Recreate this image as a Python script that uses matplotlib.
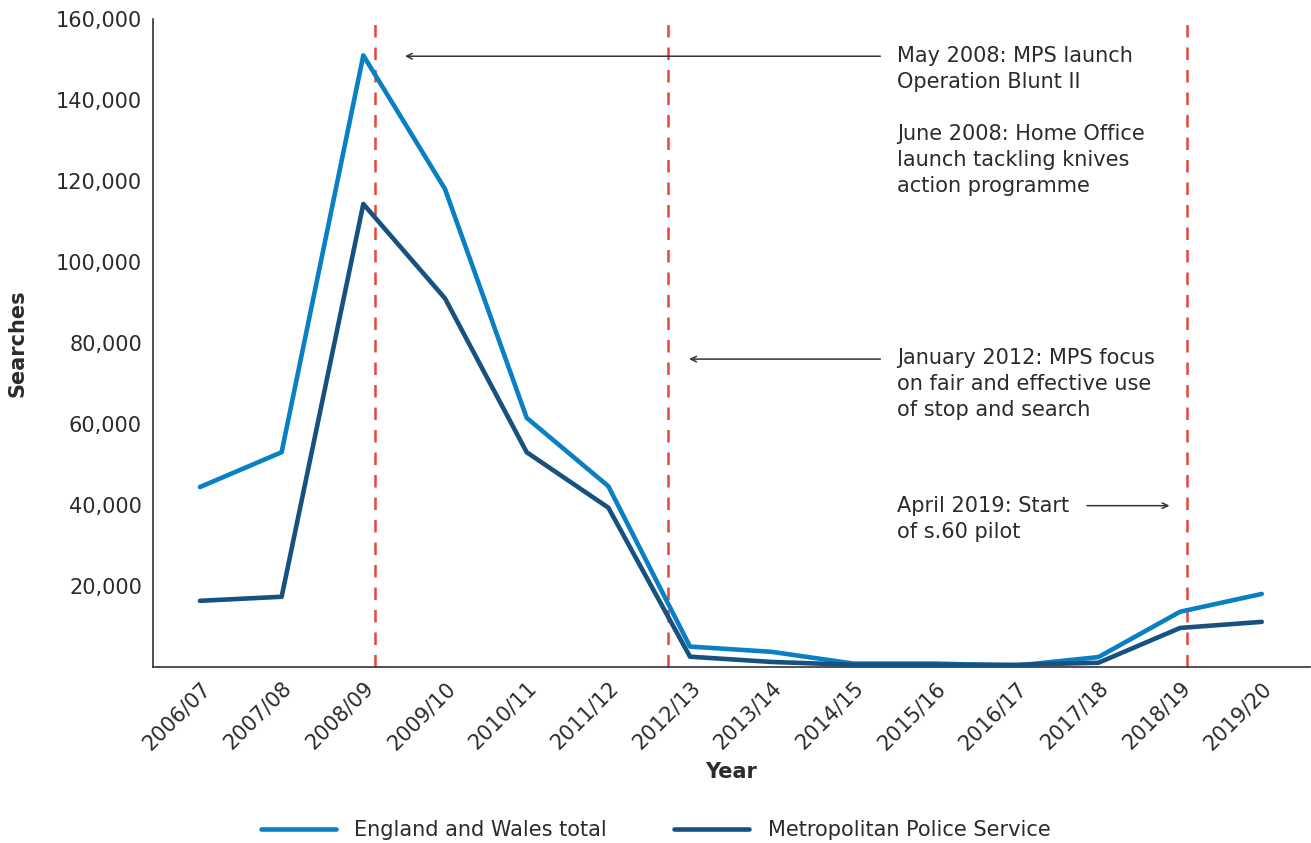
import matplotlib
matplotlib.use("Agg")
import matplotlib.pyplot as plt
from matplotlib.ticker import FuncFormatter

years = ["2006/07", "2007/08", "2008/09", "2009/10", "2010/11", "2011/12", "2012/13",
         "2013/14", "2014/15", "2015/16", "2016/17", "2017/18", "2018/19", "2019/20"]
england_wales = [44400, 53000, 151000, 118000, 61500, 44600, 5000,
                 3700, 800, 800, 300, 2400, 13600, 18000]
mps = [16300, 17300, 114300, 91000, 53000, 39300, 2500,
       1200, 500, 500, 500, 1000, 9600, 11100]

event_positions = [2.14, 5.73, 12.09]
yticks = [20000, 40000, 60000, 80000, 100000, 120000, 140000, 160000]

c_ew = "#0A80C4"
c_mps = "#17517F"
c_red = "#E8463A"
txt = "#2b2b2b"

plt.rcParams['font.family'] = ['DejaVu Sans']
fig = plt.figure(figsize=(13.11, 8.43), dpi=100)
ax = fig.add_axes([0.1167, 0.209, 0.8825, 0.7685])

x = list(range(len(years)))
ax.plot(x, england_wales, color=c_ew, lw=3.3, solid_capstyle='round', label="England and Wales total", zorder=3)
ax.plot(x, mps, color=c_mps, lw=3.3, solid_capstyle='round', label="Metropolitan Police Service", zorder=3)

for p in event_positions:
    ax.axvline(p, color=c_red, lw=1.8, ls=(0, (5, 4)), zorder=2)

ax.set_xlim(-0.575, 13.59)
ax.set_ylim(0, 160000)
ax.set_yticks(yticks)
ax.yaxis.set_major_formatter(FuncFormatter(lambda v, _: f"{int(v):,}"))
ax.set_xticks(x)
ax.set_xticklabels(years, rotation=45, ha='right', rotation_mode='anchor')
ax.tick_params(axis='both', length=0, labelsize=15, colors=txt, pad=8)
ax.tick_params(axis='x', pad=8)
for s in ['top', 'right']:
    ax.spines[s].set_visible(False)
for s in ['left', 'bottom']:
    ax.spines[s].set_color('#333333')
    ax.spines[s].set_linewidth(1.2)

ax.set_ylabel("Searches", fontsize=15, fontweight='bold', color=txt, labelpad=20)
ax.set_xlabel("Year", fontsize=15, fontweight='bold', color=txt, labelpad=6)

tx = 8.54
fs = 15
ls = 1.38
ax.text(tx, 153300, "May 2008: MPS launch\nOperation Blunt II", fontsize=fs, color=txt,
        va='top', ha='left', linespacing=ls)
ax.text(tx, 134000, "June 2008: Home Office\nlaunch tackling knives\naction programme", fontsize=fs, color=txt,
        va='top', ha='left', linespacing=ls)
ax.text(tx, 78800, "January 2012: MPS focus\non fair and effective use\nof stop and search", fontsize=fs, color=txt,
        va='top', ha='left', linespacing=ls)
ax.text(tx, 42200, "April 2019: Start\nof s.60 pilot", fontsize=fs, color=txt,
        va='top', ha='left', linespacing=ls)

arrowprops = dict(arrowstyle='->', color='#333333', lw=1.1, shrinkA=0, shrinkB=0)
ax.annotate("", xy=(2.51, 150800), xytext=(8.33, 150800), arrowprops=arrowprops)
ax.annotate("", xy=(5.99, 76000), xytext=(8.33, 76000), arrowprops=arrowprops)
ax.annotate("", xy=(11.87, 39800), xytext=(10.86, 39800), arrowprops=arrowprops)

fig.legend(loc='center', bbox_to_anchor=(0.5, 0.015), ncol=2, frameon=False,
           fontsize=15, handlelength=3.6, handletextpad=0.9, columnspacing=3.2, labelcolor=txt)

fig.savefig("out.png", dpi=100)
